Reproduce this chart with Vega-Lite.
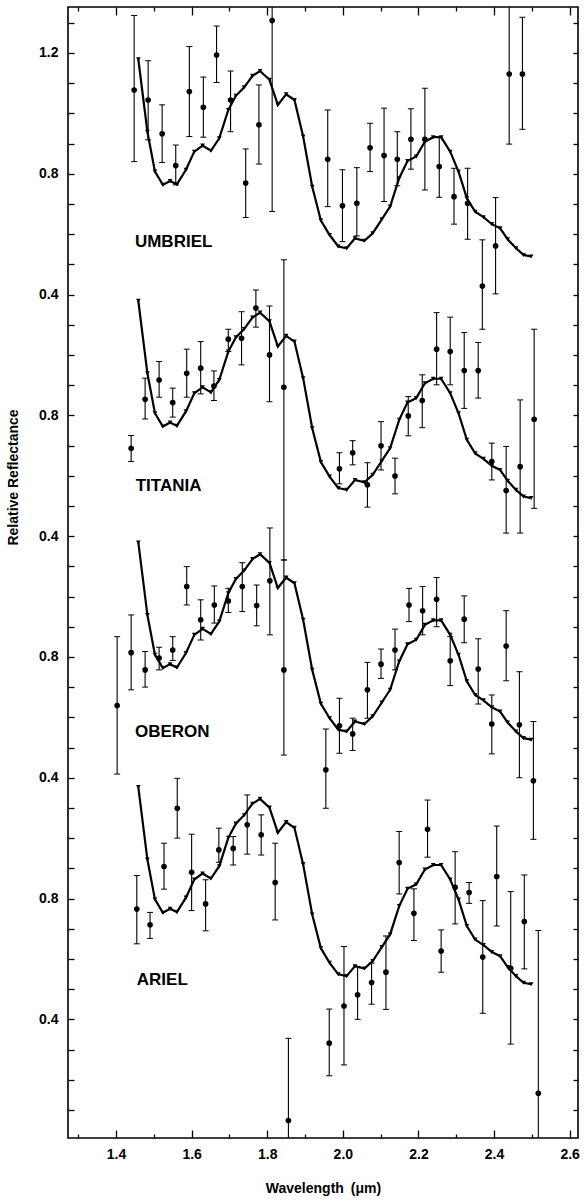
{
"$schema": "https://vega.github.io/schema/vega-lite/v6.json",
"width": 510, "height": 1131,
"autosize": "none",
"padding": {"left": 68, "top": 7, "right": 7, "bottom": 66},
"background": "white",
"config": {
  "view": {"stroke": "black", "strokeWidth": 1.6},
  "font": "Liberation Sans",
  "axis": {"domain": false, "grid": false, "tickColor": "black", "labelColor": "black", "titleColor": "black", "labelFont": "Liberation Sans", "titleFont": "Liberation Sans", "labelFontWeight": "bold", "titleFontWeight": "bold", "labelFontSize": 14, "titleFontSize": 14, "tickWidth": 1.3, "labelFlush": false, "labelOverlap": false}
},
"datasets": {
"curves": [
{"s":"U","w":1.459,"v":1.179},{"s":"U","w":1.483,"v":0.939},{"s":"U","w":1.503,"v":0.807},{"s":"U","w":1.524,"v":0.763},{"s":"U","w":1.543,"v":0.776},{"s":"U","w":1.561,"v":0.765},{"s":"U","w":1.585,"v":0.813},{"s":"U","w":1.607,"v":0.873},{"s":"U","w":1.629,"v":0.893},{"s":"U","w":1.651,"v":0.876},{"s":"U","w":1.673,"v":0.917},{"s":"U","w":1.697,"v":1.011},{"s":"U","w":1.717,"v":1.058},{"s":"U","w":1.739,"v":1.086},{"s":"U","w":1.761,"v":1.124},{"s":"U","w":1.781,"v":1.140},{"s":"U","w":1.806,"v":1.111},{"s":"U","w":1.828,"v":1.028},{"s":"U","w":1.850,"v":1.063},{"s":"U","w":1.872,"v":1.044},{"s":"U","w":1.895,"v":0.923},{"s":"U","w":1.919,"v":0.757},{"s":"U","w":1.942,"v":0.645},{"s":"U","w":1.965,"v":0.597},{"s":"U","w":1.988,"v":0.559},{"s":"U","w":2.010,"v":0.553},{"s":"U","w":2.032,"v":0.586},{"s":"U","w":2.057,"v":0.578},{"s":"U","w":2.079,"v":0.603},{"s":"U","w":2.103,"v":0.649},{"s":"U","w":2.125,"v":0.691},{"s":"U","w":2.149,"v":0.785},{"s":"U","w":2.171,"v":0.842},{"s":"U","w":2.194,"v":0.857},{"s":"U","w":2.217,"v":0.906},{"s":"U","w":2.239,"v":0.921},{"s":"U","w":2.260,"v":0.921},{"s":"U","w":2.284,"v":0.873},{"s":"U","w":2.306,"v":0.807},{"s":"U","w":2.328,"v":0.719},{"s":"U","w":2.350,"v":0.674},{"s":"U","w":2.372,"v":0.656},{"s":"U","w":2.394,"v":0.633},{"s":"U","w":2.416,"v":0.619},{"s":"U","w":2.436,"v":0.583},{"s":"U","w":2.458,"v":0.553},{"s":"U","w":2.478,"v":0.531},{"s":"U","w":2.498,"v":0.526},
{"s":"T","w":1.459,"v":0.379},{"s":"T","w":1.483,"v":0.139},{"s":"T","w":1.503,"v":0.007},{"s":"T","w":1.524,"v":-0.037},{"s":"T","w":1.543,"v":-0.024},{"s":"T","w":1.561,"v":-0.035},{"s":"T","w":1.585,"v":0.013},{"s":"T","w":1.607,"v":0.073},{"s":"T","w":1.629,"v":0.093},{"s":"T","w":1.651,"v":0.076},{"s":"T","w":1.673,"v":0.117},{"s":"T","w":1.697,"v":0.211},{"s":"T","w":1.717,"v":0.258},{"s":"T","w":1.739,"v":0.286},{"s":"T","w":1.761,"v":0.324},{"s":"T","w":1.781,"v":0.340},{"s":"T","w":1.806,"v":0.311},{"s":"T","w":1.828,"v":0.228},{"s":"T","w":1.850,"v":0.263},{"s":"T","w":1.872,"v":0.244},{"s":"T","w":1.895,"v":0.123},{"s":"T","w":1.919,"v":-0.043},{"s":"T","w":1.942,"v":-0.155},{"s":"T","w":1.965,"v":-0.203},{"s":"T","w":1.988,"v":-0.241},{"s":"T","w":2.010,"v":-0.247},{"s":"T","w":2.032,"v":-0.214},{"s":"T","w":2.057,"v":-0.222},{"s":"T","w":2.079,"v":-0.197},{"s":"T","w":2.103,"v":-0.151},{"s":"T","w":2.125,"v":-0.109},{"s":"T","w":2.149,"v":-0.015},{"s":"T","w":2.171,"v":0.042},{"s":"T","w":2.194,"v":0.057},{"s":"T","w":2.217,"v":0.106},{"s":"T","w":2.239,"v":0.121},{"s":"T","w":2.260,"v":0.121},{"s":"T","w":2.284,"v":0.073},{"s":"T","w":2.306,"v":0.007},{"s":"T","w":2.328,"v":-0.081},{"s":"T","w":2.350,"v":-0.126},{"s":"T","w":2.372,"v":-0.144},{"s":"T","w":2.394,"v":-0.167},{"s":"T","w":2.416,"v":-0.181},{"s":"T","w":2.436,"v":-0.217},{"s":"T","w":2.458,"v":-0.247},{"s":"T","w":2.478,"v":-0.269},{"s":"T","w":2.498,"v":-0.274},
{"s":"O","w":1.459,"v":-0.421},{"s":"O","w":1.483,"v":-0.661},{"s":"O","w":1.503,"v":-0.793},{"s":"O","w":1.524,"v":-0.837},{"s":"O","w":1.543,"v":-0.824},{"s":"O","w":1.561,"v":-0.835},{"s":"O","w":1.585,"v":-0.787},{"s":"O","w":1.607,"v":-0.727},{"s":"O","w":1.629,"v":-0.707},{"s":"O","w":1.651,"v":-0.724},{"s":"O","w":1.673,"v":-0.683},{"s":"O","w":1.697,"v":-0.589},{"s":"O","w":1.717,"v":-0.542},{"s":"O","w":1.739,"v":-0.514},{"s":"O","w":1.761,"v":-0.476},{"s":"O","w":1.781,"v":-0.460},{"s":"O","w":1.806,"v":-0.489},{"s":"O","w":1.828,"v":-0.572},{"s":"O","w":1.850,"v":-0.537},{"s":"O","w":1.872,"v":-0.556},{"s":"O","w":1.895,"v":-0.677},{"s":"O","w":1.919,"v":-0.843},{"s":"O","w":1.942,"v":-0.955},{"s":"O","w":1.965,"v":-1.003},{"s":"O","w":1.988,"v":-1.041},{"s":"O","w":2.010,"v":-1.047},{"s":"O","w":2.032,"v":-1.014},{"s":"O","w":2.057,"v":-1.022},{"s":"O","w":2.079,"v":-0.997},{"s":"O","w":2.103,"v":-0.951},{"s":"O","w":2.125,"v":-0.909},{"s":"O","w":2.149,"v":-0.815},{"s":"O","w":2.171,"v":-0.758},{"s":"O","w":2.194,"v":-0.743},{"s":"O","w":2.217,"v":-0.694},{"s":"O","w":2.239,"v":-0.679},{"s":"O","w":2.260,"v":-0.679},{"s":"O","w":2.284,"v":-0.727},{"s":"O","w":2.306,"v":-0.793},{"s":"O","w":2.328,"v":-0.881},{"s":"O","w":2.350,"v":-0.926},{"s":"O","w":2.372,"v":-0.944},{"s":"O","w":2.394,"v":-0.967},{"s":"O","w":2.416,"v":-0.981},{"s":"O","w":2.436,"v":-1.017},{"s":"O","w":2.458,"v":-1.047},{"s":"O","w":2.478,"v":-1.069},{"s":"O","w":2.498,"v":-1.074},
{"s":"A","w":1.459,"v":-1.231},{"s":"A","w":1.483,"v":-1.471},{"s":"A","w":1.503,"v":-1.603},{"s":"A","w":1.524,"v":-1.647},{"s":"A","w":1.543,"v":-1.634},{"s":"A","w":1.561,"v":-1.645},{"s":"A","w":1.585,"v":-1.597},{"s":"A","w":1.607,"v":-1.537},{"s":"A","w":1.629,"v":-1.517},{"s":"A","w":1.651,"v":-1.534},{"s":"A","w":1.673,"v":-1.493},{"s":"A","w":1.697,"v":-1.399},{"s":"A","w":1.717,"v":-1.352},{"s":"A","w":1.739,"v":-1.324},{"s":"A","w":1.761,"v":-1.286},{"s":"A","w":1.781,"v":-1.270},{"s":"A","w":1.806,"v":-1.299},{"s":"A","w":1.828,"v":-1.382},{"s":"A","w":1.850,"v":-1.347},{"s":"A","w":1.872,"v":-1.366},{"s":"A","w":1.895,"v":-1.487},{"s":"A","w":1.919,"v":-1.653},{"s":"A","w":1.942,"v":-1.765},{"s":"A","w":1.965,"v":-1.813},{"s":"A","w":1.988,"v":-1.851},{"s":"A","w":2.010,"v":-1.857},{"s":"A","w":2.032,"v":-1.824},{"s":"A","w":2.057,"v":-1.832},{"s":"A","w":2.079,"v":-1.807},{"s":"A","w":2.103,"v":-1.761},{"s":"A","w":2.125,"v":-1.719},{"s":"A","w":2.149,"v":-1.625},{"s":"A","w":2.171,"v":-1.568},{"s":"A","w":2.194,"v":-1.553},{"s":"A","w":2.217,"v":-1.504},{"s":"A","w":2.239,"v":-1.489},{"s":"A","w":2.260,"v":-1.489},{"s":"A","w":2.284,"v":-1.537},{"s":"A","w":2.306,"v":-1.603},{"s":"A","w":2.328,"v":-1.691},{"s":"A","w":2.350,"v":-1.736},{"s":"A","w":2.372,"v":-1.754},{"s":"A","w":2.394,"v":-1.777},{"s":"A","w":2.416,"v":-1.791},{"s":"A","w":2.436,"v":-1.827},{"s":"A","w":2.458,"v":-1.857},{"s":"A","w":2.478,"v":-1.879},{"s":"A","w":2.498,"v":-1.884}
],
"pts": [
{"s":"U","w":1.448,"v":1.077,"lo":0.840,"hi":1.324},{"s":"U","w":1.485,"v":1.044,"lo":0.912,"hi":1.174},{"s":"U","w":1.522,"v":0.932,"lo":0.837,"hi":1.028},{"s":"U","w":1.558,"v":0.827,"lo":0.763,"hi":0.895},{"s":"U","w":1.594,"v":1.072,"lo":0.923,"hi":1.221},{"s":"U","w":1.631,"v":1.020,"lo":0.921,"hi":1.120},{"s":"U","w":1.666,"v":1.193,"lo":1.102,"hi":1.289},{"s":"U","w":1.703,"v":1.044,"lo":0.939,"hi":1.140},{"s":"U","w":1.743,"v":0.769,"lo":0.655,"hi":0.882},{"s":"U","w":1.778,"v":0.962,"lo":0.832,"hi":1.094},{"s":"U","w":1.813,"v":1.307,"lo":0.675,"hi":1.940},{"s":"U","w":1.960,"v":0.848,"lo":0.691,"hi":1.011},{"s":"U","w":1.999,"v":0.694,"lo":0.575,"hi":0.813},{"s":"U","w":2.037,"v":0.702,"lo":0.594,"hi":0.820},{"s":"U","w":2.072,"v":0.886,"lo":0.807,"hi":0.967},{"s":"U","w":2.109,"v":0.860,"lo":0.708,"hi":1.017},{"s":"U","w":2.144,"v":0.848,"lo":0.760,"hi":0.939},{"s":"U","w":2.180,"v":0.914,"lo":0.815,"hi":1.015},{"s":"U","w":2.217,"v":0.914,"lo":0.746,"hi":1.083},{"s":"U","w":2.255,"v":0.824,"lo":0.722,"hi":0.923},{"s":"U","w":2.294,"v":0.724,"lo":0.633,"hi":0.818},{"s":"U","w":2.330,"v":0.702,"lo":0.583,"hi":0.818},{"s":"U","w":2.369,"v":0.428,"lo":0.285,"hi":0.581},{"s":"U","w":2.404,"v":0.561,"lo":0.402,"hi":0.721},{"s":"U","w":2.440,"v":1.130,"lo":0.898,"hi":1.362},{"s":"U","w":2.475,"v":1.130,"lo":0.947,"hi":1.318},
{"s":"T","w":1.440,"v":-0.109,"lo":-0.153,"hi":-0.067},{"s":"T","w":1.477,"v":0.053,"lo":-0.012,"hi":0.123},{"s":"T","w":1.514,"v":0.117,"lo":0.060,"hi":0.178},{"s":"T","w":1.550,"v":0.042,"lo":-0.006,"hi":0.090},{"s":"T","w":1.587,"v":0.139,"lo":0.060,"hi":0.219},{"s":"T","w":1.624,"v":0.156,"lo":0.071,"hi":0.244},{"s":"T","w":1.659,"v":0.097,"lo":0.049,"hi":0.147},{"s":"T","w":1.697,"v":0.252,"lo":0.211,"hi":0.285},{"s":"T","w":1.732,"v":0.255,"lo":0.167,"hi":0.343},{"s":"T","w":1.770,"v":0.355,"lo":0.292,"hi":0.415},{"s":"T","w":1.806,"v":0.200,"lo":0.045,"hi":0.362},{"s":"T","w":1.844,"v":0.093,"lo":-0.479,"hi":0.515},{"s":"T","w":1.991,"v":-0.177,"lo":-0.227,"hi":-0.124},{"s":"T","w":2.026,"v":-0.124,"lo":-0.164,"hi":-0.084},{"s":"T","w":2.065,"v":-0.230,"lo":-0.304,"hi":-0.157},{"s":"T","w":2.101,"v":-0.101,"lo":-0.181,"hi":-0.021},{"s":"T","w":2.138,"v":-0.201,"lo":-0.260,"hi":-0.142},{"s":"T","w":2.173,"v":-0.002,"lo":-0.068,"hi":0.062},{"s":"T","w":2.210,"v":0.049,"lo":-0.041,"hi":0.134},{"s":"T","w":2.248,"v":0.219,"lo":0.101,"hi":0.340},{"s":"T","w":2.284,"v":0.211,"lo":0.101,"hi":0.325},{"s":"T","w":2.321,"v":0.148,"lo":0.023,"hi":0.274},{"s":"T","w":2.358,"v":0.148,"lo":0.057,"hi":0.241},{"s":"T","w":2.394,"v":-0.153,"lo":-0.214,"hi":-0.092},{"s":"T","w":2.432,"v":-0.249,"lo":-0.390,"hi":-0.103},{"s":"T","w":2.469,"v":-0.170,"lo":-0.390,"hi":0.051},{"s":"T","w":2.506,"v":-0.013,"lo":-0.308,"hi":0.285},
{"s":"O","w":1.403,"v":-0.961,"lo":-1.188,"hi":-0.733},{"s":"O","w":1.440,"v":-0.786,"lo":-0.909,"hi":-0.661},{"s":"O","w":1.477,"v":-0.843,"lo":-0.900,"hi":-0.782},{"s":"O","w":1.514,"v":-0.804,"lo":-0.843,"hi":-0.768},{"s":"O","w":1.550,"v":-0.777,"lo":-0.812,"hi":-0.733},{"s":"O","w":1.587,"v":-0.567,"lo":-0.628,"hi":-0.501},{"s":"O","w":1.624,"v":-0.677,"lo":-0.744,"hi":-0.611},{"s":"O","w":1.660,"v":-0.628,"lo":-0.688,"hi":-0.565},{"s":"O","w":1.697,"v":-0.615,"lo":-0.653,"hi":-0.573},{"s":"O","w":1.734,"v":-0.567,"lo":-0.650,"hi":-0.488},{"s":"O","w":1.772,"v":-0.630,"lo":-0.697,"hi":-0.562},{"s":"O","w":1.807,"v":-0.548,"lo":-0.727,"hi":-0.373},{"s":"O","w":1.844,"v":-0.843,"lo":-1.125,"hi":-0.479},{"s":"O","w":1.955,"v":-1.174,"lo":-1.301,"hi":-1.039},{"s":"O","w":1.991,"v":-1.028,"lo":-1.119,"hi":-0.937},{"s":"O","w":2.026,"v":-1.055,"lo":-1.110,"hi":-1.003},{"s":"O","w":2.065,"v":-0.909,"lo":-1.003,"hi":-0.818},{"s":"O","w":2.101,"v":-0.824,"lo":-0.871,"hi":-0.774},{"s":"O","w":2.138,"v":-0.777,"lo":-0.843,"hi":-0.708},{"s":"O","w":2.175,"v":-0.628,"lo":-0.683,"hi":-0.573},{"s":"O","w":2.211,"v":-0.647,"lo":-0.727,"hi":-0.567},{"s":"O","w":2.248,"v":-0.609,"lo":-0.700,"hi":-0.537},{"s":"O","w":2.284,"v":-0.813,"lo":-0.895,"hi":-0.733},{"s":"O","w":2.321,"v":-0.675,"lo":-0.753,"hi":-0.598},{"s":"O","w":2.358,"v":-0.840,"lo":-0.956,"hi":-0.740},{"s":"O","w":2.394,"v":-1.022,"lo":-1.121,"hi":-0.926},{"s":"O","w":2.432,"v":-0.764,"lo":-0.879,"hi":-0.647},{"s":"O","w":2.467,"v":-1.025,"lo":-1.200,"hi":-0.849},{"s":"O","w":2.504,"v":-1.210,"lo":-1.404,"hi":-1.014},
{"s":"A","w":1.455,"v":-1.635,"lo":-1.750,"hi":-1.524},{"s":"A","w":1.490,"v":-1.687,"lo":-1.732,"hi":-1.646},{"s":"A","w":1.527,"v":-1.494,"lo":-1.569,"hi":-1.417},{"s":"A","w":1.562,"v":-1.301,"lo":-1.400,"hi":-1.202},{"s":"A","w":1.600,"v":-1.513,"lo":-1.640,"hi":-1.387},{"s":"A","w":1.637,"v":-1.618,"lo":-1.707,"hi":-1.538},{"s":"A","w":1.672,"v":-1.439,"lo":-1.480,"hi":-1.367},{"s":"A","w":1.710,"v":-1.434,"lo":-1.489,"hi":-1.395},{"s":"A","w":1.747,"v":-1.356,"lo":-1.453,"hi":-1.257},{"s":"A","w":1.784,"v":-1.389,"lo":-1.456,"hi":-1.323},{"s":"A","w":1.821,"v":-1.547,"lo":-1.671,"hi":-1.417},{"s":"A","w":1.856,"v":-2.335,"lo":-2.600,"hi":-2.063},{"s":"A","w":1.964,"v":-2.079,"lo":-2.187,"hi":-1.966},{"s":"A","w":2.003,"v":-1.956,"lo":-2.151,"hi":-1.759},{"s":"A","w":2.039,"v":-1.919,"lo":-2.000,"hi":-1.825},{"s":"A","w":2.076,"v":-1.878,"lo":-1.950,"hi":-1.814},{"s":"A","w":2.114,"v":-1.844,"lo":-1.967,"hi":-1.724},{"s":"A","w":2.149,"v":-1.481,"lo":-1.585,"hi":-1.378},{"s":"A","w":2.188,"v":-1.649,"lo":-1.739,"hi":-1.568},{"s":"A","w":2.224,"v":-1.371,"lo":-1.463,"hi":-1.274},{"s":"A","w":2.260,"v":-1.774,"lo":-1.844,"hi":-1.704},{"s":"A","w":2.297,"v":-1.563,"lo":-1.684,"hi":-1.445},{"s":"A","w":2.334,"v":-1.580,"lo":-1.616,"hi":-1.547},{"s":"A","w":2.370,"v":-1.794,"lo":-1.980,"hi":-1.607},{"s":"A","w":2.407,"v":-1.527,"lo":-1.691,"hi":-1.360},{"s":"A","w":2.444,"v":-1.831,"lo":-2.082,"hi":-1.577},{"s":"A","w":2.480,"v":-1.676,"lo":-1.833,"hi":-1.522},{"s":"A","w":2.517,"v":-2.245,"lo":-2.600,"hi":-1.706}
],
"names": [
{"name":"UMBRIEL","w":1.450,"v":0.574},{"name":"TITANIA","w":1.452,"v":-0.234},{"name":"OBERON","w":1.450,"v":-1.048},{"name":"ARIEL","w":1.455,"v":-1.870}
]
},
"resolve": {"axis": {"x": "independent", "y": "independent"}},
"layer": [
{
 "data": {"name": "curves"},
 "mark": {"type": "line", "color": "black", "strokeWidth": 2.2, "clip": true},
 "encoding": {
  "x": {"field": "w", "type": "quantitative", "scale": {"domain": [1.273, 2.622], "nice": false, "zero": false},
   "axis": {"orient": "bottom", "values": [1.3,1.4,1.5,1.6,1.7,1.8,1.9,2.0,2.1,2.2,2.3,2.4,2.5,2.6],
    "labelExpr": "round(datum.value*10)%2==0 ? format(datum.value, '.1f') : ''",
    "tickSize": {"condition": {"test": "round(datum.value*10)%2==0", "value": -8}, "value": -4},
    "labelPadding": 17, "title": "Wavelength\u2002(\u03bcm)", "titleY": 43, "titleBaseline": "top"}},
  "y": {"field": "v", "type": "quantitative", "scale": {"domain": [-2.393, 1.352], "nice": false, "zero": false},
   "axis": {"orient": "left", "values": [-2.3,-2.2,-2.1,-2.0,-1.9,-1.8,-1.7,-1.6,-1.5,-1.4,-1.3,-1.2,-1.1,-1.0,-0.9,-0.8,-0.7,-0.6,-0.5,-0.4,-0.3,-0.2,-0.1,0,0.1,0.2,0.3,0.4,0.5,0.6,0.7,0.8,0.9,1.0,1.1,1.2,1.3],
    "labelExpr": "round(datum.value*10)==12 ? '1.2' : indexof([8,0,-8,-16], round(datum.value*10))>=0 ? '0.8' : indexof([4,-4,-12,-20], round(datum.value*10))>=0 ? '0.4' : ''",
    "tickSize": -6, "labelPadding": 16, "title": "Relative Reflectance", "titleX": -48, "titleY": 470}},
  "detail": {"field": "s"}
 }
},
{
 "data": {"name": "curves"},
 "mark": {"type": "point", "shape": "triangle-down", "filled": true, "color": "black", "size": 22, "opacity": 1, "clip": true},
 "encoding": {
  "x": {"field": "w", "type": "quantitative", "scale": {"domain": [1.273, 2.622], "nice": false, "zero": false},
   "axis": {"orient": "top", "values": [1.3,1.4,1.5,1.6,1.7,1.8,1.9,2.0,2.1,2.2,2.3,2.4,2.5,2.6], "labels": false, "title": null,
    "tickSize": {"condition": {"test": "round(datum.value*10)%2==0", "value": -8}, "value": -4}}},
  "y": {"field": "v", "type": "quantitative", "scale": {"domain": [-2.393, 1.352], "nice": false, "zero": false},
   "axis": {"orient": "right", "values": [-2.3,-2.2,-2.1,-2.0,-1.9,-1.8,-1.7,-1.6,-1.5,-1.4,-1.3,-1.2,-1.1,-1.0,-0.9,-0.8,-0.7,-0.6,-0.5,-0.4,-0.3,-0.2,-0.1,0,0.1,0.2,0.3,0.4,0.5,0.6,0.7,0.8,0.9,1.0,1.1,1.2,1.3], "labels": false, "title": null, "tickSize": -5}}
 }
},
{
 "data": {"name": "pts"},
 "mark": {"type": "rule", "color": "black", "strokeWidth": 1.1, "clip": true},
 "encoding": {
  "x": {"field": "w", "type": "quantitative", "axis": null},
  "y": {"field": "lo", "type": "quantitative", "axis": null},
  "y2": {"field": "hi"}
 }
},
{
 "data": {"name": "pts"},
 "mark": {"type": "tick", "orient": "horizontal", "color": "black", "size": 6, "thickness": 1, "opacity": 1, "clip": true},
 "encoding": {
  "x": {"field": "w", "type": "quantitative", "axis": null},
  "y": {"field": "hi", "type": "quantitative", "axis": null}
 }
},
{
 "data": {"name": "pts"},
 "mark": {"type": "tick", "orient": "horizontal", "color": "black", "size": 6, "thickness": 1, "opacity": 1, "clip": true},
 "encoding": {
  "x": {"field": "w", "type": "quantitative", "axis": null},
  "y": {"field": "lo", "type": "quantitative", "axis": null}
 }
},
{
 "data": {"name": "pts"},
 "mark": {"type": "circle", "color": "black", "size": 32, "opacity": 1, "clip": true},
 "encoding": {
  "x": {"field": "w", "type": "quantitative", "axis": null},
  "y": {"field": "v", "type": "quantitative", "axis": null}
 }
},
{
 "data": {"name": "names"},
 "mark": {"type": "text", "align": "left", "baseline": "middle", "font": "Liberation Sans", "fontWeight": "bold", "fontSize": 17, "color": "black"},
 "encoding": {
  "x": {"field": "w", "type": "quantitative", "axis": null},
  "y": {"field": "v", "type": "quantitative", "axis": null},
  "text": {"field": "name"}
 }
}
]
}
